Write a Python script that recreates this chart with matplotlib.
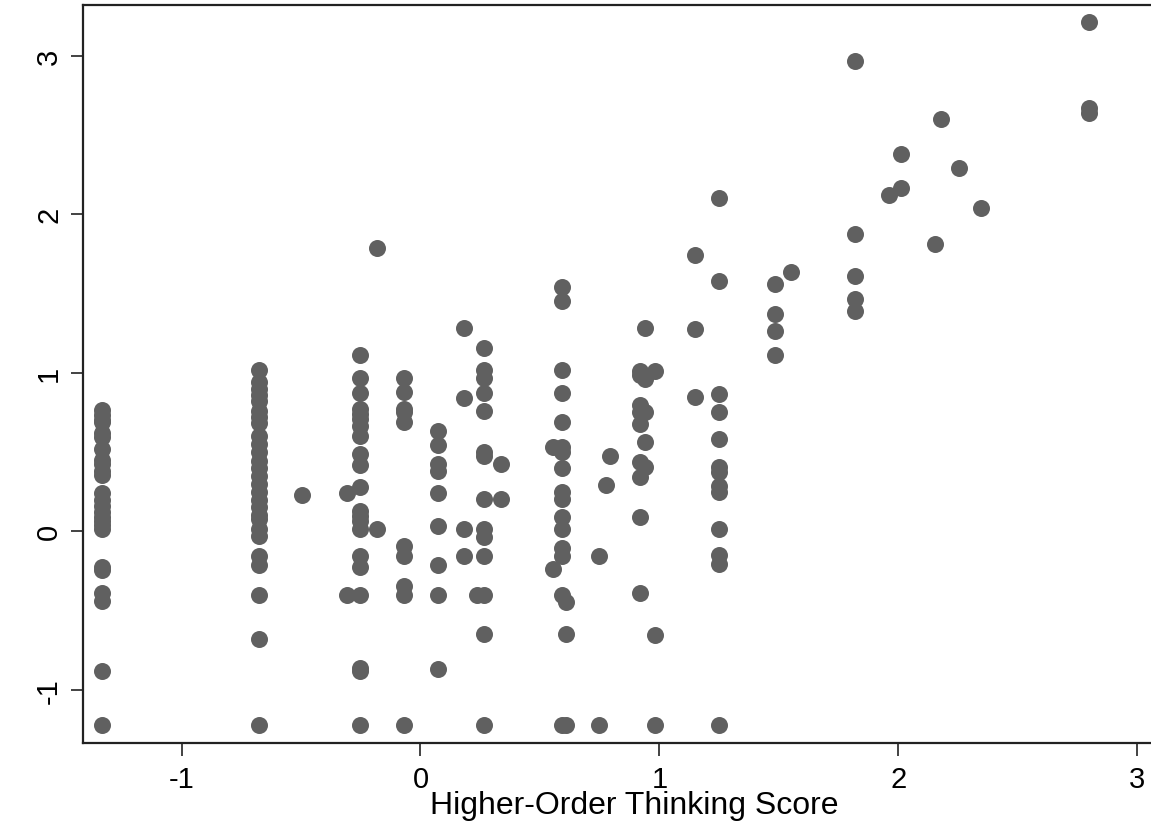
import numpy as np
import matplotlib
matplotlib.use('Agg')
import matplotlib.pyplot as plt

plt.rcParams['font.family'] = ['Liberation Sans', 'DejaVu Sans']

# scatter data, grouped by score column (x value, list of y values)
col_x = [-1.335, -0.675, -0.496, -0.309, -0.253, -0.18, -0.068, 0.072, 0.184,
         0.237, 0.265, 0.338, 0.555, 0.593, 0.61, 0.749, 0.777, 0.795, 0.918,
         0.941, 0.983, 1.15, 1.25, 1.485, 1.551, 1.82, 1.96, 2.01, 2.153,
         2.18, 2.255, 2.345, 2.80]
col_y = [
    [0.766, 0.734, 0.70, 0.688, 0.62, 0.597, 0.519, 0.45, 0.424, 0.38, 0.356, 0.241,
     0.20, 0.160, 0.122, 0.09, 0.065, 0.04, 0.013, -0.224, -0.245, -0.388, -0.441,
     -0.884, -1.222],
    [1.02, 0.94, 0.90, 0.86, 0.82, 0.76, 0.72, 0.68, 0.60, 0.55, 0.50, 0.445, 0.40,
     0.35, 0.30, 0.245, 0.20, 0.15, 0.10, 0.076, 0.013, -0.03, -0.156, -0.215, -0.40,
     -0.68, -1.222],
    [0.228],
    [0.24, -0.40],
    [1.114, 0.966, 0.873, 0.772, 0.74, 0.709, 0.667, 0.603, 0.49, 0.418, 0.28, 0.129,
     0.097, 0.065, 0.017, -0.156, -0.224, -0.399, -0.863, -0.884, -1.222],
    [1.79, 0.017],
    [0.968, 0.878, 0.772, 0.751, 0.688, -0.093, -0.156, -0.346, -0.40, -1.222],
    [0.63, 0.544, 0.424, 0.38, 0.24, 0.034, -0.213, -0.40, -0.869],
    [1.283, 0.842, 0.017, -0.156],
    [-0.40],
    [1.156, 1.019, 0.968, 0.873, 0.757, 0.502, 0.477, 0.203, 0.017, -0.034, -0.156,
     -0.40, -0.648, -1.222],
    [0.424, 0.203],
    [0.534, -0.236],
    [1.544, 1.45, 1.019, 0.873, 0.692, 0.53, 0.498, 0.397, 0.249, 0.203, 0.087, 0.017,
     -0.103, -0.156, -0.40, -1.222],
    [-0.447, -0.648, -1.222],
    [-0.156, -1.222],
    [0.293],
    [0.473],
    [1.008, 0.983, 0.797, 0.751, 0.677, 0.435, 0.34, 0.087, -0.39],
    [1.285, 0.962, 0.755, 0.561, 0.403],
    [1.008, -0.652, -1.222],
    [1.74, 1.278, 0.846],
    [2.10, 1.58, 0.867, 0.755, 0.582, 0.403, 0.375, 0.287, 0.245, 0.017, -0.152,
     -0.209, -1.222],
    [1.559, 1.373, 1.264, 1.11],
    [1.637],
    [2.97, 1.875, 1.612, 1.468, 1.388],
    [2.12],
    [2.38, 2.165],
    [1.81],
    [2.60],
    [2.29],
    [2.04],
    [3.21, 2.67, 2.64],
]

x_ticks = [-1, 0, 1, 2, 3]
y_ticks = [-1, 0, 1, 2, 3]
x_label = 'Higher-Order Thinking Score'

xs = np.concatenate([[cx] * len(ys) for cx, ys in zip(col_x, col_y)])
ys = np.concatenate(col_y)

fig = plt.figure(figsize=(11.51, 8.29), dpi=100)
# plot region runs past the right edge of the image (cropped like the original)
ax = fig.add_axes([0.0718, 0.1025, 0.9577, 0.8906])
ax.scatter(xs, ys, s=150, color='#606060', linewidths=0, zorder=3)

ax.set_xlim(-1.414, 3.2)
ax.set_ylim(-1.336, 3.322)
ax.set_xticks(x_ticks)
ax.set_yticks(y_ticks)
ax.set_xticklabels([str(t) for t in x_ticks])
ax.set_yticklabels([str(t) for t in y_ticks], rotation=90, va='center')
ax.tick_params(direction='out', length=9, width=1.2, labelsize=21, color='#222222')
ax.tick_params(axis='x', pad=7)
ax.tick_params(axis='y', pad=5)

for side in ['left', 'bottom', 'top']:
    ax.spines[side].set_linewidth(1.6)
    ax.spines[side].set_color('#222222')
ax.spines['right'].set_visible(False)

ax.set_xlabel(x_label, fontsize=23, labelpad=-2)

fig.savefig('out.png', dpi=100)
